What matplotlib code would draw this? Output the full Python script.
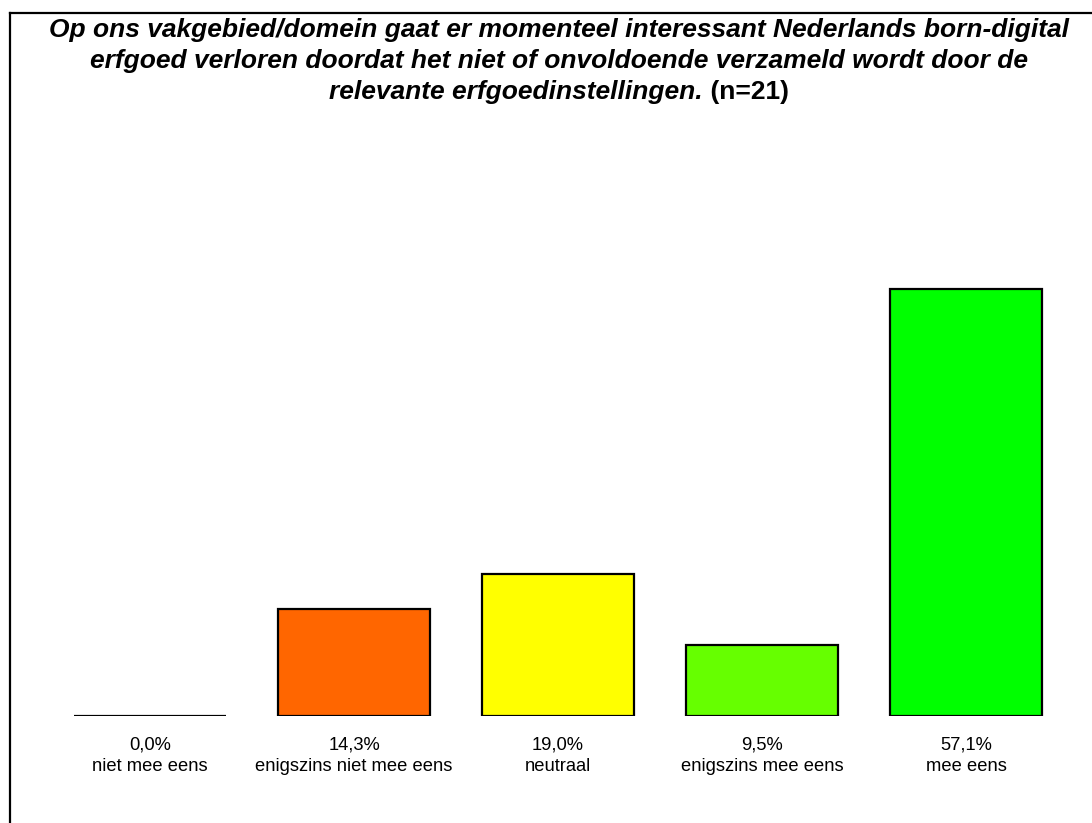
import matplotlib.pyplot as plt
from matplotlib.lines import Line2D

categories = ["niet mee eens", "enigszins niet mee eens", "neutraal",
              "enigszins mee eens", "mee eens"]
values = [0.0, 14.3, 19.0, 9.5, 57.1]
colors = ["#FFFFFF", "#FF6600", "#FFFF00", "#66FF00", "#00FF00"]

title_lines = [
    "Op ons vakgebied/domein gaat er momenteel interessant Nederlands born-digital",
    "erfgoed verloren doordat het niet of onvoldoende verzameld wordt door de",
]
title_last = "relevante erfgoedinstellingen."
title_n = " (n=21)"

plt.rcParams['font.family'] = ['Liberation Sans', 'DejaVu Sans']

W, H = 1092, 823
fig = plt.figure(figsize=(W / 100, H / 100), dpi=100)

# axes: bars centred at 150 + 204*i px, baseline at y=716 px
left, right = 48, 1068
bottom, top = 716, 130
ax = fig.add_axes([left / W, 1 - bottom / H, (right - left) / W, (bottom - top) / H])

x = list(range(len(categories)))
ax.bar(x, values, width=0.745, color=colors, edgecolor="black", linewidth=1.6)
ax.set_xlim(-0.5, 4.5)
ax.set_ylim(0, 100 * (bottom - top) / 748)

labels = [f"{v:.1f}%".replace(".", ",") + "\n" + c for v, c in zip(values, categories)]
ax.set_xticks(x, labels, fontsize=13.2, linespacing=1.35)
ax.tick_params(axis="x", length=0, pad=15)
ax.set_yticks([])
for s in ax.spines.values():
    s.set_visible(False)

# frame (left and top edge visible)
fig.add_artist(Line2D([10 / W, 1.01], [1 - 13 / H, 1 - 13 / H], color="black", lw=1.6,
                      transform=fig.transFigure))
fig.add_artist(Line2D([10 / W, 10 / W], [1 - 13 / H, -0.01], color="black", lw=1.6,
                      transform=fig.transFigure))

# title
tsize = 19
cx = 559
baselines = [37, 68, 99]
for line, y in zip(title_lines, baselines):
    fig.text(cx / W, 1 - y / H, line, ha="center", va="baseline",
             fontsize=tsize, fontweight="bold", fontstyle="italic")

t1 = fig.text(0, 1 - baselines[2] / H, title_last, ha="left", va="baseline",
              fontsize=tsize, fontweight="bold", fontstyle="italic")
t2 = fig.text(0, 1 - baselines[2] / H, title_n, ha="left", va="baseline",
              fontsize=tsize, fontweight="bold")
fig.canvas.draw()
r = fig.canvas.get_renderer()
w1 = t1.get_window_extent(r).width
w2 = t2.get_window_extent(r).width
x0 = cx - (w1 + w2) / 2
t1.set_x(x0 / W)
t2.set_x((x0 + w1) / W)

fig.savefig("out.png", dpi=100)
